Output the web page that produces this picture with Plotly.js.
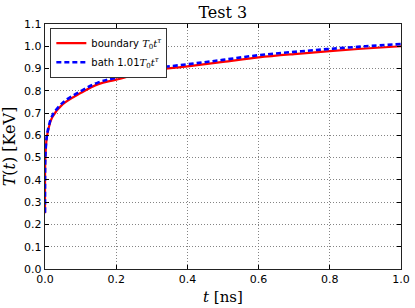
<!DOCTYPE html>
<html><head><meta charset="utf-8">
<script src="https://cdn.plot.ly/plotly-3.0.1.min.js"></script>
<style>html,body{margin:0;padding:0;background:#fff}#c{width:415px;height:308px}</style>
</head><body><div id="c"></div>
<script>
const tValues = [0.000001, 0.00001, 0.0001, 0.001, 0.005, 0.01, 0.02, 0.05, 0.1, 0.15, 0.2, 0.3, 0.4, 0.5, 0.6, 0.7, 0.8, 0.9, 1.0];
const boundaryT = [0.25, 0.32, 0.40, 0.50, 0.59, 0.63, 0.68, 0.74, 0.79, 0.83, 0.85, 0.89, 0.91, 0.93, 0.95, 0.965, 0.978, 0.99, 1.0];
const bathT = [0.253, 0.323, 0.404, 0.505, 0.596, 0.636, 0.687, 0.747, 0.798, 0.838, 0.859, 0.899, 0.919, 0.939, 0.96, 0.975, 0.988, 1.0, 1.01];
const xTicks = [0, 0.2, 0.4, 0.6, 0.8, 1.0];
const yTicks = [0, 0.1, 0.2, 0.3, 0.4, 0.5, 0.6, 0.7, 0.8, 0.9, 1.0, 1.1];
const serif = "'DejaVu Serif', 'Liberation Serif', serif";
const sans = "'DejaVu Sans', sans-serif";
const math = (s) => `<span style="font-family:${serif}">${s}</span>`;

const traces = [
  {x: tValues, y: boundaryT, mode: 'lines', name: 'boundary ' + math('<i>T</i><sub>0</sub><i>t</i><sup><i>τ</i></sup>'),
   line: {color: '#ff0000', width: 2.2, shape: 'spline'}},
  {x: tValues, y: bathT, mode: 'lines', name: 'bath 1.01' + math('<i>T</i><sub>0</sub><i>t</i><sup><i>τ</i></sup>'),
   line: {color: '#0000ff', width: 2.6, dash: '5px,3px', shape: 'spline'}}
];
const axisCommon = {
  showline: true, linecolor: '#222', linewidth: 1.2, mirror: 'ticks',
  ticks: 'inside', ticklen: 4, tickcolor: '#000', tickwidth: 1,
  showgrid: true, gridcolor: '#777', griddash: '1px,2px', gridwidth: 0.9,
  zeroline: false, tickfont: {family: sans, size: 11, color: '#000'}
};
const layout = {
  width: 415, height: 308,
  margin: {l: 45, r: 14, t: 24, b: 39},
  paper_bgcolor: '#fff', plot_bgcolor: '#fff',
  showlegend: true,
  title: {text: 'Test 3', x: 0.537, xanchor: 'center', y: 0.96, yanchor: 'middle', font: {family: serif, size: 16, color: '#000'}},
  xaxis: Object.assign({}, axisCommon, {range: [0, 1], tickvals: xTicks, ticktext: xTicks.map(v => v.toFixed(1)),
    title: {text: '<i>t</i> [ns]', font: {family: serif, size: 15, color: '#000'}, standoff: 6}}),
  yaxis: Object.assign({}, axisCommon, {range: [0, 1.1], tickvals: yTicks, ticktext: yTicks.map(v => v.toFixed(1)),
    title: {text: '<i>T</i>(<i>t</i>) [KeV]', font: {family: serif, size: 16, color: '#000'}, standoff: 7}}),
  legend: {x: 0.015, y: 0.985, xanchor: 'left', yanchor: 'top', bgcolor: '#fff', bordercolor: '#333', borderwidth: 1,
    font: {family: sans, size: 10, color: '#000'}, tracegroupgap: 0, itemwidth: 30}
};
Plotly.newPlot('c', traces, layout, {displayModeBar: false, staticPlot: true});
</script></body></html>
